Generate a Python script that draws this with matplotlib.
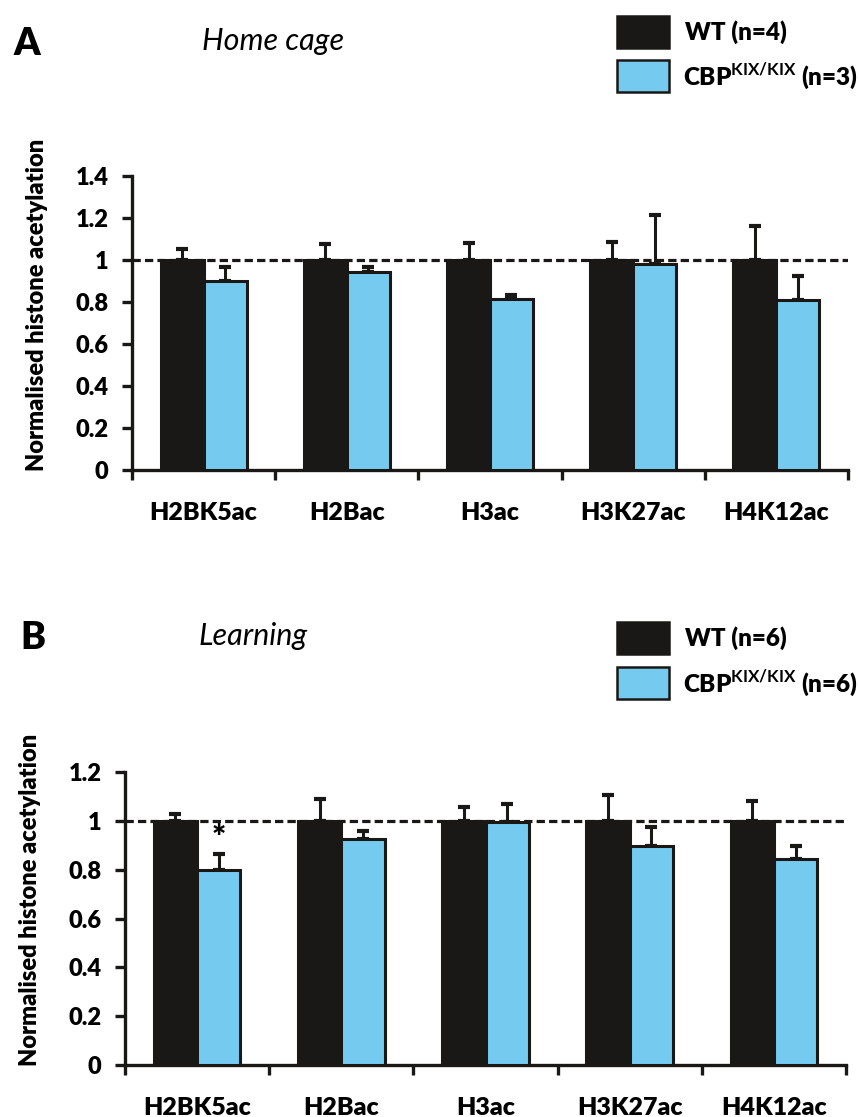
import matplotlib
matplotlib.use("Agg")
import matplotlib.pyplot as plt
from matplotlib.patches import Rectangle
import numpy as np

plt.rcParams['font.family'] = ['Lato', 'DejaVu Sans']
plt.rcParams['mathtext.fontset'] = 'custom'
plt.rcParams['mathtext.rm'] = 'Lato'
plt.rcParams['mathtext.bf'] = 'Lato:bold'

categories = ["H2BK5ac", "H2Bac", "H3ac", "H3K27ac", "H4K12ac"]

# Panel A: Home cage
a_wt = [1.0, 1.0, 1.0, 1.0, 1.0]
a_wt_err = [0.05, 0.075, 0.08, 0.085, 0.16]
a_kix = [0.90, 0.945, 0.815, 0.98, 0.81]
a_kix_err = [0.065, 0.022, 0.016, 0.235, 0.115]

# Panel B: Learning
b_wt = [1.0, 1.0, 1.0, 1.0, 1.0]
b_wt_err = [0.03, 0.09, 0.055, 0.105, 0.08]
b_kix = [0.80, 0.925, 0.995, 0.895, 0.845]
b_kix_err = [0.065, 0.035, 0.075, 0.08, 0.05]

a_ticks = [0, 0.2, 0.4, 0.6, 0.8, 1.0, 1.2, 1.4]
a_ticklabels = ["0", "0.2", "0.4", "0.6", "0.8", "1", "1.2", "1.4"]
b_ticks = [0, 0.2, 0.4, 0.6, 0.8, 1.0, 1.2]
b_ticklabels = ["0", "0.2", "0.4", "0.6", "0.8", "1", "1.2"]

BLACK = "#1a1816"
BLUE = "#75CBEF"
WEIGHT = 'heavy'

W, H = 859, 1117
fig = plt.figure(figsize=(W / 100, H / 100), dpi=100)


def fx(px):
    return px / W


def fy(py):
    return 1 - py / H


def panel(rect, wt, wt_err, kix, kix_err, ticks, ticklabels, ymax, ylab_y, star=None):
    ax = fig.add_axes(rect)
    x = np.arange(len(categories))
    bw = 0.3
    ax.bar(x - bw / 2, wt, bw, color=BLACK, edgecolor=BLACK, linewidth=2.2, zorder=3)
    ax.bar(x + bw / 2, kix, bw, color=BLUE, edgecolor=BLACK, linewidth=2.2, zorder=3)
    ax.errorbar(x - bw / 2, wt, yerr=[np.zeros(len(wt)), wt_err], fmt='none',
                ecolor=BLACK, elinewidth=2.2, capsize=4, capthick=3, zorder=2)
    ax.errorbar(x + bw / 2, kix, yerr=[np.zeros(len(kix)), kix_err], fmt='none',
                ecolor=BLACK, elinewidth=2.2, capsize=4, capthick=3, zorder=2)
    ax.axhline(1.0, color=BLACK, linestyle=(0, (2.6, 1.3)), linewidth=2.3, zorder=4)
    ax.set_xlim(-0.5, len(categories) - 0.5)
    ax.set_ylim(0, ymax)
    for s in ['top', 'right']:
        ax.spines[s].set_visible(False)
    for s in ['left', 'bottom']:
        ax.spines[s].set_linewidth(2.4)
        ax.spines[s].set_color(BLACK)
    ax.set_yticks(ticks)
    ax.set_yticklabels(ticklabels, fontsize=17, fontweight=WEIGHT)
    ax.tick_params(axis='y', direction='out', length=7, width=2.4, pad=10, color=BLACK)
    ax.set_xticks(np.arange(-0.5, len(categories), 1.0))
    ax.set_xticklabels([])
    ax.tick_params(axis='x', which='major', direction='out', length=7, width=2.4, color=BLACK)
    ax.set_xticks(x, minor=True)
    ax.set_xticklabels(categories, minor=True, fontsize=18, fontweight=WEIGHT)
    ax.tick_params(axis='x', which='minor', length=0, pad=23)
    ax.set_ylabel("Normalised histone acetylation", fontsize=17, fontweight=WEIGHT)
    ax.yaxis.set_label_coords(-0.117, ylab_y)
    if star is not None:
        i = star
        ax.text(x[i] + bw / 2, kix[i] + kix_err[i] + 0.06, "*", ha='center', va='center',
                fontsize=24, fontweight=WEIGHT)
    return ax


panel([fx(132), fy(470), fx(848 - 132), (470 - 176) / H], a_wt, a_wt_err, a_kix, a_kix_err,
      a_ticks, a_ticklabels, 1.4, 0.563)
panel([fx(125), fy(1065), fx(846 - 125), (1065 - 772) / H], b_wt, b_wt_err, b_kix, b_kix_err,
      b_ticks, b_ticklabels, 1.2, 0.563, star=0)


def legend(y_black, y_blue, n_wt, n_kix):
    bx, bw_, bh = 617, 52, 32
    fig.add_artist(Rectangle((fx(bx), fy(y_black + bh)), fx(bw_), bh / H,
                             facecolor=BLACK, edgecolor=BLACK, linewidth=1.8, transform=fig.transFigure))
    fig.add_artist(Rectangle((fx(bx), fy(y_blue + bh)), fx(bw_), bh / H,
                             facecolor=BLUE, edgecolor=BLACK, linewidth=1.8, transform=fig.transFigure))
    fig.text(fx(685), fy(y_black + bh / 2), f"WT (n={n_wt})", fontsize=17.5, fontweight=WEIGHT,
             va='center', ha='left')
    fig.text(fx(683), fy(y_blue + bh / 2), r"CBP$^{\mathbf{KIX/KIX}}$" + f" (n={n_kix})",
             fontsize=17.5, fontweight=WEIGHT, va='center', ha='left')


legend(16, 60, 4, 3)
legend(622, 667, 6, 6)

fig.text(fx(13), fy(55), "A", fontsize=27, fontweight=WEIGHT, va='baseline', ha='left')
fig.text(fx(202), fy(50), "Home cage", fontsize=22, style='italic', va='baseline', ha='left')
fig.text(fx(20), fy(649), "B", fontsize=27, fontweight=WEIGHT, va='baseline', ha='left')
fig.text(fx(199), fy(645), "Learning", fontsize=22, style='italic', va='baseline', ha='left')

fig.savefig("out.png", dpi=100)
